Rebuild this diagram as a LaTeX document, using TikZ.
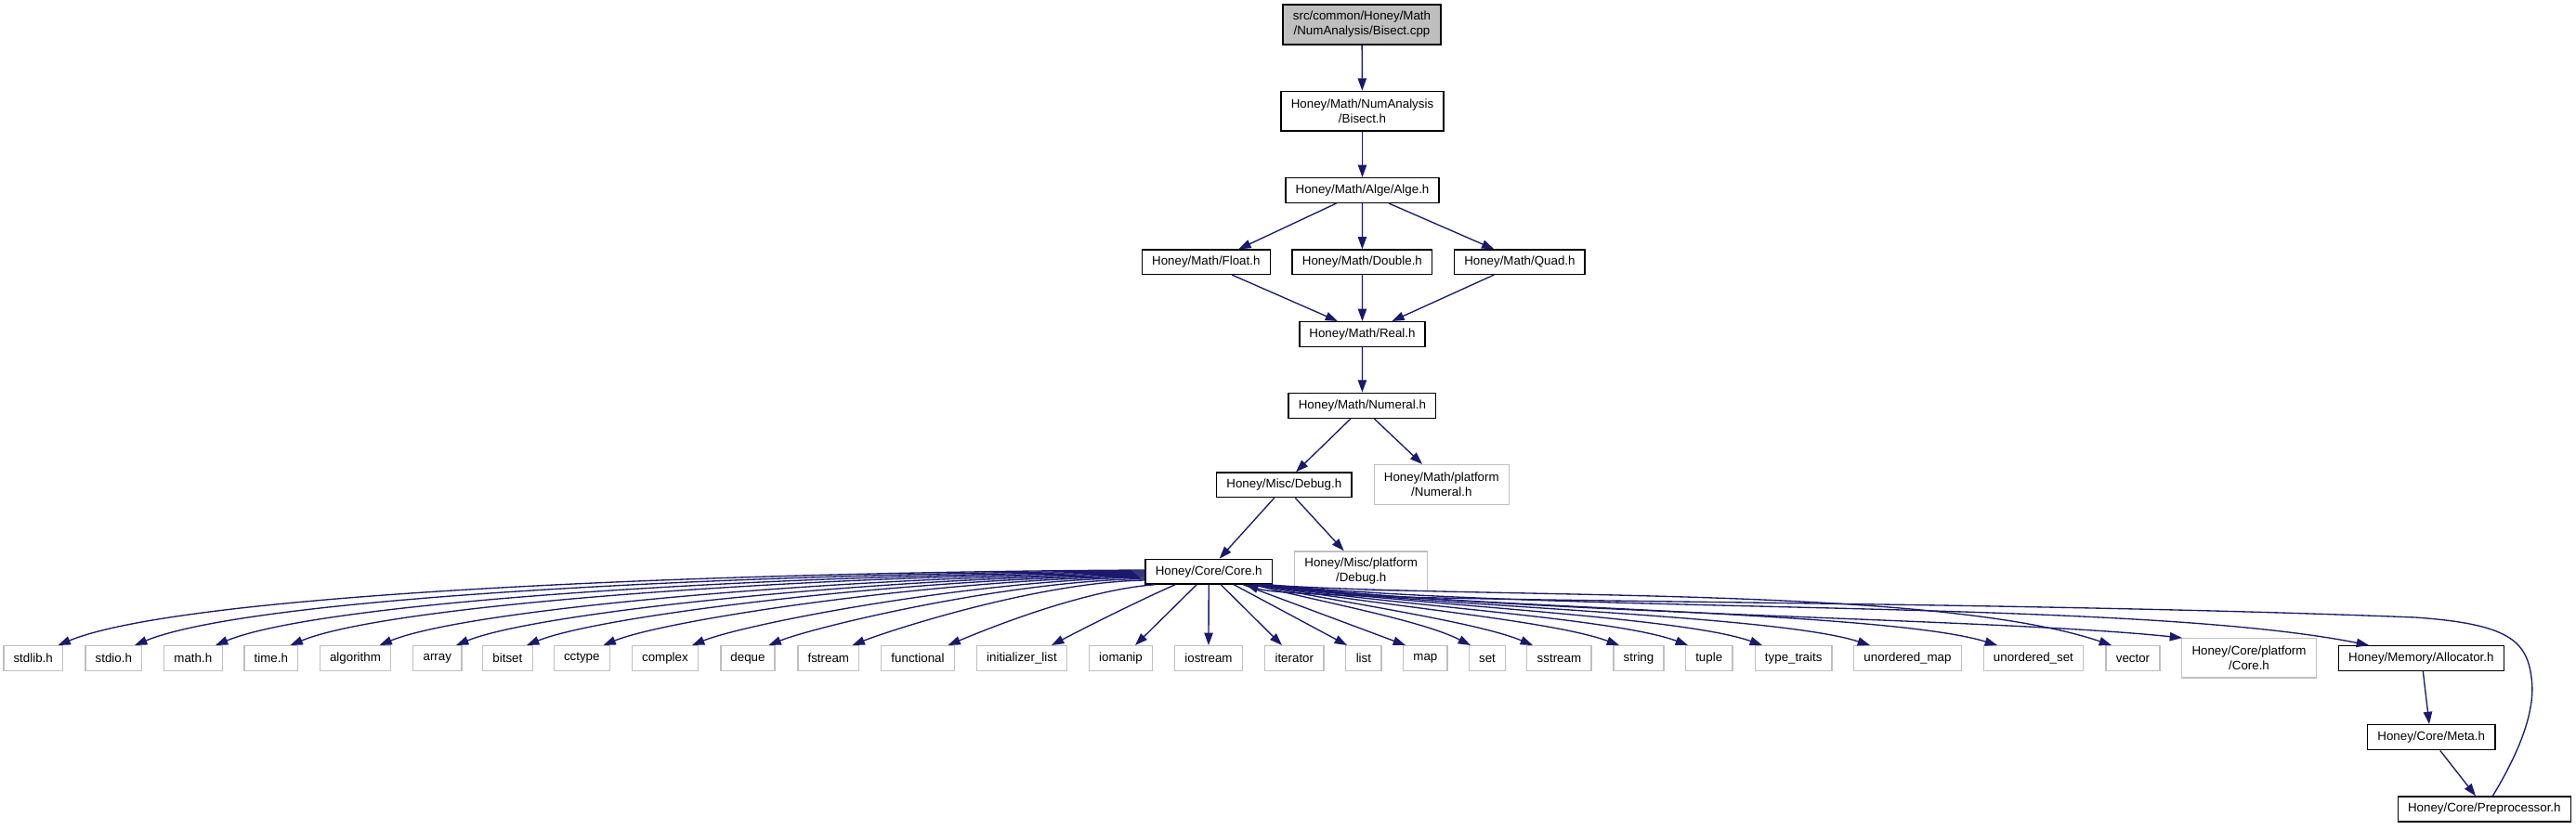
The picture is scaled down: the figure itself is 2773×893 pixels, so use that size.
\documentclass[tikz,border=0pt]{standalone}
\usepackage{fontspec}
\setmainfont{Liberation Sans}
\usetikzlibrary{arrows.meta,calc}
\definecolor{edgeblue}{HTML}{191970}
\definecolor{lgray}{HTML}{BFBFBF}
\begin{document}
\begin{tikzpicture}[x=0.75pt,y=-0.75pt,
  wh/.style 2 args={minimum width=#1*0.75pt, minimum height=#2*0.75pt},
  hbox/.style={draw=black, line width=1pt, fill=white, inner sep=0pt, align=center, font=\fontsize{10}{12}\selectfont},
  gbox/.style={hbox, draw=lgray},
  rootbox/.style={hbox, fill=lgray},
  edge/.style={draw=edgeblue, line width=1pt, -{Triangle[length=10pt,width=7pt]}}]
\fill[white] (0,0) rectangle (2773,893);
\useasboundingbox (0,0) rectangle (2773,893);

\node[rootbox, wh={170}{43}] (cpp) at (1466,26.5) {src/common/Honey/Math\\/NumAnalysis/Bisect.cpp};
\node[hbox, wh={175}{42.7}] (bisecth) at (1466.5,119.7) {Honey/Math/NumAnalysis\\/Bisect.h};
\node[hbox, wh={165}{26.7}] (alge) at (1466.5,205) {Honey/Math/Alge/Alge.h};
\node[hbox, wh={138}{26.3}] (float) at (1298.3,282.2) {Honey/Math/Float.h};
\node[hbox, wh={150.7}{26.3}] (double) at (1466.4,282.2) {Honey/Math/Double.h};
\node[hbox, wh={140.3}{26.3}] (quad) at (1635.9,282.2) {Honey/Math/Quad.h};
\node[hbox, wh={135}{26.7}] (real) at (1466.5,360) {Honey/Math/Real.h};
\node[hbox, wh={158.7}{27}] (numeral) at (1466.4,436.8) {Honey/Math/Numeral.h};
\node[hbox, wh={145.3}{26.7}] (debug) at (1382.3,522.3) {Honey/Misc/Debug.h};
\node[gbox, wh={145}{42.7}] (pnumeral) at (1551.8,522) {Honey/Math/platform\\/Numeral.h};
\node[hbox, wh={136.3}{26.7}] (core) at (1301.2,615.7) {Honey/Core/Core.h};
\node[gbox, wh={143}{42.7}] (pdebug) at (1465.2,615.3) {Honey/Misc/platform\\/Debug.h};

\node[gbox, wh={63.4}{26.7}] (stdlib) at (35.7,709) {stdlib.h};
\node[gbox, wh={60.7}{26.7}] (stdio) at (122.3,709) {stdio.h};
\node[gbox, wh={63}{26.7}] (math) at (207.8,709) {math.h};
\node[gbox, wh={57.5}{26.7}] (time) at (291.8,709) {time.h};
\node[gbox, wh={76}{26.7}] (algorithm) at (382.5,709) {algorithm};
\node[gbox, wh={52.4}{26.7}] (array) at (470.8,709) {array};
\node[gbox, wh={53.6}{26.7}] (bitset) at (546.4,709) {bitset};
\node[gbox, wh={60}{26.7}] (cctype) at (626.3,709) {cctype};
\node[gbox, wh={71}{26.7}] (complex) at (715.9,709) {complex};
\node[gbox, wh={58}{26.7}] (deque) at (805,709) {deque};
\node[gbox, wh={65.6}{26.7}] (fstream) at (891.8,709) {fstream};
\node[gbox, wh={78.5}{26.7}] (functional) at (988,709) {functional};
\node[gbox, wh={97.4}{26.7}] (initlist) at (1100,709) {initializer\_list};
\node[gbox, wh={68.3}{26.7}] (iomanip) at (1206.5,709) {iomanip};
\node[gbox, wh={72.8}{26.7}] (iostream) at (1301,709) {iostream};
\node[gbox, wh={63.4}{26.7}] (iterator) at (1393.3,709) {iterator};
\node[gbox, wh={38.3}{26.7}] (list) at (1467.9,709) {list};
\node[gbox, wh={47.3}{26.7}] (map) at (1534.4,709) {map};
\node[gbox, wh={39.2}{26.7}] (set) at (1601,709) {set};
\node[gbox, wh={69.3}{26.7}] (sstream) at (1678.4,709) {sstream};
\node[gbox, wh={54}{26.7}] (string) at (1764,709) {string};
\node[gbox, wh={50.7}{26.7}] (tuple) at (1839.7,709) {tuple};
\node[gbox, wh={82.7}{26.7}] (typetraits) at (1930.7,709) {type\_traits};
\node[gbox, wh={115.5}{26.7}] (umap) at (2053.5,709) {unordered\_map};
\node[gbox, wh={107}{26.7}] (uset) at (2188.9,709) {unordered\_set};
\node[gbox, wh={57.8}{26.7}] (vector) at (2296,709) {vector};
\node[gbox, wh={144.6}{42.3}] (pcore) at (2421,708.9) {Honey/Core/platform\\/Core.h};
\node[hbox, wh={178}{26.7}] (alloc) at (2606.3,709) {Honey/Memory/Allocator.h};
\node[hbox, wh={137.7}{27}] (meta) at (2617.2,794.2) {Honey/Core/Meta.h};
\node[hbox, wh={186}{27}] (prep) at (2674.3,871.5) {Honey/Core/Preprocessor.h};

% upper chain
\draw[edge] (cpp) -- (bisecth);
\draw[edge] (bisecth) -- (alge);
\draw[edge] ($(alge.south)+(-28,0)$) -- ($(float.north)+(35,0)$);
\draw[edge] (alge) -- (double);
\draw[edge] ($(alge.south)+(28.5,0)$) -- ($(quad.north)+(-27.6,0)$);
\draw[edge] ($(float.south)+(27.7,0)$) -- ($(real.north)+(-26.5,0)$);
\draw[edge] (double) -- (real);
\draw[edge] ($(quad.south)+(-27.6,0)$) -- ($(real.north)+(31.8,0)$);
\draw[edge] (real) -- (numeral);
\draw[edge] ($(numeral.south)+(-12.4,0)$) -- ($(debug.north)+(12.7,0)$);
\draw[edge] ($(numeral.south)+(12.9,0)$) -- ($(pnumeral.north)+(-20.8,0)$);
\draw[edge] ($(debug.south)+(-10.6,0)$) -- ($(core.north)+(11.5,0)$);
\draw[edge] ($(debug.south)+(12,0)$) -- ($(pdebug.north)+(-18.5,0)$);

% Core.h to the left
\draw[edge] ($(core.west)+(0,-1.7)$) .. controls (800,616) and (203,637.2) .. ($(stdlib.north)+(26.8,0)$);
\draw[edge] ($(core.west)+(0,-0.7)$) .. controls (830.4,617) and (275.6,641.3) .. ($(stdio.north)+(22.7,0)$);
\draw[edge] ($(core.west)+(0,0.3)$) .. controls (862.6,618) and (352.1,645.7) .. ($(math.north)+(24.2,0)$);
\draw[edge] ($(core.west)+(0,1.3)$) .. controls (892.4,619) and (423,649.7) .. ($(time.north)+(20.7,0)$);
\draw[edge] ($(core.west)+(0,2.3)$) .. controls (928,620) and (507.4,654.5) .. ($(algorithm.north)+(26,0)$);
\draw[edge] ($(core.west)+(0,3.3)$) .. controls (958.5,621) and (580,658.6) .. ($(array.north)+(20.2,0)$);
\draw[edge] ($(core.west)+(0,4.3)$) .. controls (986.6,622) and (647,662.4) .. ($(bitset.north)+(20.6,0)$);
\draw[edge] ($(core.west)+(0,5.3)$) .. controls (1017.1,623) and (719.5,666.5) .. ($(cctype.north)+(23.2,0)$);
\draw[edge] ($(core.west)+(0,6.3)$) .. controls (1052.4,624) and (803.6,671.3) .. ($(complex.north)+(29.1,0)$);
\draw[edge] ($(core.west)+(0,7.8)$) .. controls (1083,625.5) and (876.2,675.4) .. ($(deque.north)+(22.5,0)$);
\draw[edge] ($(core.west)+(0,9.3)$) .. controls (1116.3,627) and (955.4,679.9) .. ($(fstream.north)+(25.7,0)$);
\draw[edge] ($(core.south)+(-58,0)$) .. controls (1160,636) and (1047,684) .. ($(functional.north)+(32.5,0)$);
\draw[edge] ($(core.south)+(-36,0)$) .. controls (1230,645) and (1170,675) .. ($(initlist.north)+(32,0)$);
\draw[edge] ($(core.south)+(-13,0)$) -- ($(iomanip.north)+(15.5,0)$);
\draw[edge] (core.south) -- (iostream.north);
\draw[edge] ($(core.south)+(13,0)$) -- ($(iterator.north)+(-13.3,0)$);
\draw[edge] ($(core.south)+(27,0)$) -- ($(list.north)+(-17.9,0)$);
\draw[edge] ($(core.south)+(37,0)$) -- ($(map.north)+(-21.4,0)$);

% Core.h to the right
\draw[edge] ($(core.south)+(47.8,0)$) .. controls (1420,648) and (1530,668) .. ($(set.north)+(-18,0)$);
\draw[edge] ($(core.south)+(50,0)$) .. controls (1450,650) and (1590,670) .. ($(sstream.north)+(-28.4,0)$);
\draw[edge] ($(core.south)+(52,0)$) .. controls (1480,652) and (1670,668) .. ($(string.north)+(-21,0)$);
\draw[edge] ($(core.south)+(54,0)$) .. controls (1500,652) and (1740,666) .. ($(tuple.north)+(-22.7,0)$);
\draw[edge] ($(core.south)+(56,0)$) .. controls (1520,652) and (1810,664) .. ($(typetraits.north)+(-33.7,0)$);
\draw[edge] ($(core.south)+(58,0)$) .. controls (1540,654) and (1910,662) .. ($(umap.north)+(-40.5,0)$);
\draw[edge] ($(core.south)+(60,0)$) .. controls (1570,656) and (2030,658) .. ($(uset.north)+(-38.9,0)$);
\draw[edge] ($(core.south)+(59,0)$) .. controls (1600,646) and (2080,630) .. ($(vector.north)+(-23,0)$);
\draw[edge] ($(core.south)+(61,0)$) .. controls (1650,662) and (2150,666) .. ($(pcore.north west)+(1,0)$);
\draw[edge] ($(core.south)+(63,0)$) .. controls (1700,662) and (2300,645) .. ($(alloc.north)+(-56.3,0)$);

% lower right chain
\draw[edge] ($(alloc.south)+(2,0)$) -- ($(meta.north)+(-2.2,0)$);
\draw[edge] ($(meta.south)+(9.5,0)$) -- ($(prep.north)+(-9.3,0)$);
\draw[edge] ($(prep.north)+(9,0)$) .. controls (2712,810) and (2730,765) .. (2725,730)
  .. controls (2720,690) and (2700,672) .. (2600,665)
  .. controls (2100,645) and (1400,650) .. ($(core.south)+(40,0)$);
\end{tikzpicture}
\end{document}
